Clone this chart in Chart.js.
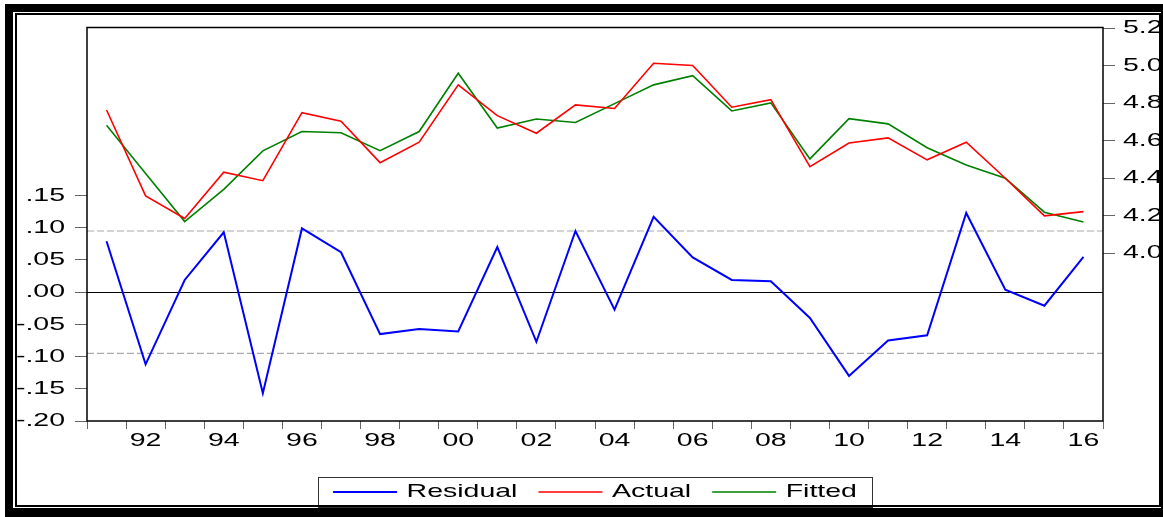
<!DOCTYPE html>
<html>
<head>
<meta charset="utf-8">
<script src="https://cdn.jsdelivr.net/npm/chart.js@4/dist/chart.umd.min.js"></script>
<style>
  html, body { margin: 0; padding: 0; background: #fff; }
  #stage { position: relative; width: 1163px; height: 517px; overflow: hidden; background: #fff; }
  #chart { position: absolute; left: 0; top: 0; }
  .frame { position: absolute; box-sizing: border-box; pointer-events: none; }
  #frameOuter { left: 5px; top: 4px; width: 1164px; height: 514px; border: 8px solid #000; border-bottom-width: 10px; }
  #frameInner { left: 15px; top: 13px; width: 1146px; height: 494px; border: 2px solid #000; }
</style>
</head>
<body>
<div id="stage">
  <canvas id="chart" width="1163" height="517"></canvas>
  <div class="frame" id="frameOuter"></div>
  <div class="frame" id="frameInner"></div>
</div>
<script>
// Annual observations, 1991-2016
const years = ['1991','1992','1993','1994','1995','1996','1997','1998','1999','2000',
               '2001','2002','2003','2004','2005','2006','2007','2008','2009','2010',
               '2011','2012','2013','2014','2015','2016'];
const yearTickLabels = ['', '92', '', '94', '', '96', '', '98', '', '00',
                        '', '02', '', '04', '', '06', '', '08', '', '10',
                        '', '12', '', '14', '', '16'];

const residual = [0.079, -0.112, 0.019, 0.093, -0.157, 0.099, 0.062, -0.065, -0.057, -0.061,
                  0.070, -0.077, 0.095, -0.027, 0.117, 0.054, 0.019, 0.017, -0.040, -0.130,
                  -0.075, -0.067, 0.123, 0.004, -0.021, 0.055];
const actual = [4.764, 4.306, 4.185, 4.432, 4.387, 4.750, 4.704, 4.483, 4.592, 4.898,
                4.734, 4.640, 4.791, 4.772, 5.013, 5.001, 4.779, 4.819, 4.462, 4.588,
                4.615, 4.498, 4.592, 4.400, 4.199, 4.222];
const fitted = [4.683, 4.425, 4.169, 4.341, 4.546, 4.649, 4.643, 4.547, 4.649, 4.960,
                4.668, 4.716, 4.697, 4.798, 4.898, 4.947, 4.759, 4.802, 4.503, 4.718,
                4.690, 4.563, 4.471, 4.400, 4.219, 4.167];

// Residual axis (left) and level axis (right)
const residTickValues = [-0.20, -0.15, -0.10, -0.05, 0.00, 0.05, 0.10, 0.15];
const residTickLabels = ['-.20', '-.15', '-.10', '-.05', '.00', '.05', '.10', '.15'];
const levelTickValues = [4.0, 4.2, 4.4, 4.6, 4.8, 5.0, 5.2];
const levelTickLabels = ['4.0', '4.2', '4.4', '4.6', '4.8', '5.0', '5.2'];

// +/- one standard error band around zero residual
const residualSE = 0.095;

const canvas = document.getElementById('chart');
const ctx = canvas.getContext('2d');

// Wide lettering: every glyph is drawn stretched horizontally, and
// measurements report the stretched width so the layout accounts for it.
const STRETCH = 1.5;
const baseFillText = ctx.fillText.bind(ctx);
const baseMeasureText = ctx.measureText.bind(ctx);
ctx.fillText = function (text, x, y, maxWidth) {
  this.save();
  this.translate(x, y);
  this.scale(STRETCH, 1);
  if (maxWidth === undefined) baseFillText(text, 0, 0);
  else baseFillText(text, 0, 0, maxWidth / STRETCH);
  this.restore();
};
ctx.measureText = function (text) {
  const m = baseMeasureText(text);
  return {
    width: m.width * STRETCH,
    actualBoundingBoxLeft: m.actualBoundingBoxLeft * STRETCH,
    actualBoundingBoxRight: m.actualBoundingBoxRight * STRETCH,
    actualBoundingBoxAscent: m.actualBoundingBoxAscent,
    actualBoundingBoxDescent: m.actualBoundingBoxDescent
  };
};

const FONT = { family: "'Liberation Sans', Arial, Helvetica, sans-serif", size: 19 };
const TICK_MARK = '#666';

// Zero line, standard-error lines, plot frame and legend frame
const guides = {
  id: 'guides',
  beforeDatasetsDraw(chart) {
    const { ctx, chartArea: a } = chart;
    const y = chart.scales.y;
    ctx.save();
    ctx.lineWidth = 1.2;
    ctx.strokeStyle = '#aaa';
    ctx.setLineDash([7, 3]);
    [residualSE, -residualSE].forEach(v => {
      const py = y.getPixelForValue(v);
      ctx.beginPath(); ctx.moveTo(a.left, py); ctx.lineTo(a.right, py); ctx.stroke();
    });
    ctx.setLineDash([]);
    ctx.strokeStyle = '#000';
    ctx.lineWidth = 1;
    const z = Math.round(y.getPixelForValue(0)) + 0.5;
    ctx.beginPath(); ctx.moveTo(a.left, z); ctx.lineTo(a.right, z); ctx.stroke();
    ctx.restore();
  },
  afterDraw(chart) {
    const { ctx, chartArea: a, legend } = chart;
    ctx.save();
    ctx.strokeStyle = '#000';
    ctx.lineWidth = 1.5;
    ctx.strokeRect(a.left, a.top, a.right - a.left, a.bottom - a.top);
    const boxes = legend.legendHitBoxes;
    if (boxes && boxes.length) {
      const left = Math.min(...boxes.map(b => b.left)) - 15;
      const right = Math.max(...boxes.map(b => b.left + b.width)) + 15;
      ctx.strokeStyle = '#333';
      ctx.lineWidth = 1;
      ctx.strokeRect(Math.round(left) + 0.5, 477.5, Math.round(right - left), 30);
    }
    ctx.restore();
  }
};

new Chart(ctx, {
  type: 'line',
  data: {
    labels: years,
    datasets: [
      { label: 'Residual', data: residual, yAxisID: 'y', borderColor: '#0000ff', backgroundColor: '#0000ff',
        borderWidth: 2, pointRadius: 0, pointStyle: 'line', tension: 0 },
      { label: 'Actual', data: actual, yAxisID: 'y2', borderColor: '#ff0000', backgroundColor: '#ff0000',
        borderWidth: 1.6, pointRadius: 0, pointStyle: 'line', tension: 0 },
      { label: 'Fitted', data: fitted, yAxisID: 'y2', borderColor: '#008000', backgroundColor: '#008000',
        borderWidth: 1.6, pointRadius: 0, pointStyle: 'line', tension: 0 }
    ]
  },
  options: {
    responsive: false,
    animation: false,
    devicePixelRatio: 1,
    layout: { padding: { top: 27.5, bottom: 5.5, left: 0, right: 0 } },
    plugins: {
      tooltip: { enabled: false },
      legend: {
        position: 'bottom',
        fullSize: false,
        labels: {
          usePointStyle: true,
          pointStyleWidth: 64,
          padding: 21,
          color: '#000',
          font: FONT
        }
      }
    },
    scales: {
      x: {
        type: 'category',
        offset: true,
        border: { display: false },
        grid: { offset: true, drawOnChartArea: false, drawTicks: true, tickLength: 8, color: TICK_MARK, lineWidth: 1 },
        ticks: {
          autoSkip: false, maxRotation: 0, minRotation: 0, padding: 0,
          color: '#000', font: FONT,
          callback: (v, i) => yearTickLabels[i]
        },
        afterFit: s => { s.height = 40.5; }
      },
      y: {
        type: 'linear',
        position: 'left',
        min: -0.20,
        max: 0.411,
        border: { display: false },
        grid: { drawOnChartArea: false, drawTicks: true, tickLength: 12, color: TICK_MARK, lineWidth: 1 },
        afterBuildTicks: s => { s.ticks = residTickValues.map(v => ({ value: v })); },
        ticks: {
          autoSkip: false, padding: 10, color: '#000', font: FONT,
          callback: (v, i) => residTickLabels[i]
        },
        afterFit: s => { s.width = 87; }
      },
      y2: {
        type: 'linear',
        position: 'right',
        min: 3.105,
        max: 5.204,
        border: { display: false },
        grid: { drawOnChartArea: false, drawTicks: true, tickLength: 12, color: TICK_MARK, lineWidth: 1 },
        afterBuildTicks: s => { s.ticks = levelTickValues.map(v => ({ value: v })); },
        ticks: {
          autoSkip: false, padding: 8, color: '#000', font: FONT,
          callback: (v, i) => levelTickLabels[i]
        },
        afterFit: s => { s.width = 60; }
      }
    }
  },
  plugins: [guides]
});
</script>
</body>
</html>
